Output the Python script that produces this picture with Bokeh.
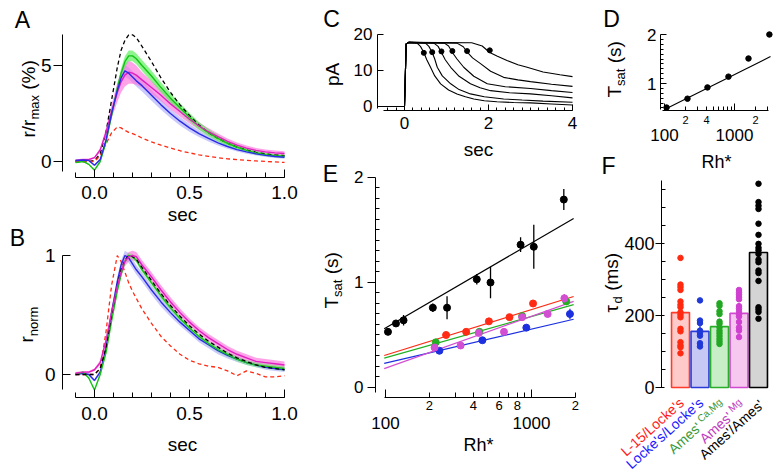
import numpy as np
from math import pi, cos, sin, radians
from bokeh.plotting import figure
from bokeh.models import (Range1d, LinearAxis, LogAxis, FixedTicker, SingleIntervalTicker,
                          PrintfTickFormatter, Label)
from bokeh.layouts import row, column
from bokeh.embed import file_html
from bokeh.resources import INLINE

FONT = "Liberation Sans"

# ---------------- data ----------------
# Panels A/B: time base (s)
t_ab = [-0.1, -0.06, -0.03, 0.0, 0.03, 0.06, 0.09, 0.12, 0.14, 0.16, 0.18, 0.2, 0.22, 0.25,
        0.3, 0.35, 0.4, 0.45, 0.5, 0.55, 0.6, 0.65, 0.7, 0.75, 0.8, 0.85, 0.9, 0.95, 1.0]
# Panel A: r/rmax (%)
a_black = [0, 0, 0, 0.05, 0.4, 1.5, 3.2, 4.9, 5.8, 6.3, 6.6, 6.6, 6.45, 6.0, 5.2, 4.35, 3.6, 2.95,
           2.4, 1.9, 1.5, 1.2, 0.95, 0.75, 0.6, 0.48, 0.4, 0.34, 0.3]
a_red = [0, 0, 0, 0.0, 0.3, 0.9, 1.5, 1.8, 1.75, 1.62, 1.52, 1.45, 1.38, 1.22, 1.02, 0.85, 0.7,
         0.56, 0.45, 0.35, 0.27, 0.2, 0.14, 0.1, 0.06, 0.03, 0.0, -0.02, -0.05]
a_green = [-0.05, 0.0, -0.15, -0.45, 0.0, 1.0, 2.4, 3.8, 4.6, 5.2, 5.5, 5.5, 5.35, 5.0, 4.45, 3.85,
           3.3, 2.8, 2.3, 1.85, 1.5, 1.2, 0.95, 0.75, 0.58, 0.45, 0.36, 0.3, 0.27]
a_green_sem = [0.03, 0.03, 0.03, 0.05, 0.05, 0.1, 0.15, 0.2, 0.25, 0.28, 0.28, 0.28, 0.28, 0.28,
               0.28, 0.26, 0.25, 0.23, 0.22, 0.2, 0.18, 0.16, 0.14, 0.12, 0.1, 0.1, 0.09, 0.08, 0.08]
a_magenta = [0.05, 0.1, 0.1, 0.2, 0.6, 1.5, 2.6, 3.6, 4.15, 4.5, 4.65, 4.6, 4.5, 4.25, 3.85, 3.45,
             3.0, 2.6, 2.2, 1.85, 1.55, 1.3, 1.05, 0.85, 0.7, 0.58, 0.5, 0.45, 0.42]
a_magenta_sem = [0.05, 0.05, 0.05, 0.05, 0.1, 0.2, 0.35, 0.5, 0.55, 0.6, 0.6, 0.55, 0.5, 0.4, 0.35,
                 0.3, 0.28, 0.25, 0.22, 0.2, 0.18, 0.16, 0.15, 0.14, 0.13, 0.12, 0.12, 0.12, 0.12]
a_blue = [0.05, 0.08, 0.05, -0.2, 0.1, 1.1, 2.5, 3.7, 4.35, 4.72, 4.6, 4.4, 4.2, 3.95, 3.45, 2.95,
          2.5, 2.1, 1.75, 1.45, 1.2, 0.97, 0.78, 0.62, 0.5, 0.4, 0.32, 0.26, 0.22]
a_blue_sem = [0.03, 0.03, 0.03, 0.05, 0.08, 0.15, 0.2, 0.25, 0.28, 0.3, 0.3, 0.3, 0.3, 0.3, 0.28,
              0.26, 0.24, 0.22, 0.2, 0.18, 0.16, 0.14, 0.12, 0.1, 0.1, 0.09, 0.08, 0.08, 0.08]
# Panel B: normalised responses
b_black = [0, 0, 0, 0.0, 0.05, 0.22, 0.5, 0.75, 0.88, 0.96, 1.0, 0.99, 0.97, 0.9, 0.79, 0.68, 0.58,
           0.49, 0.41, 0.34, 0.28, 0.23, 0.18, 0.14, 0.11, 0.08, 0.06, 0.05, 0.04]
b_red = [0, 0, 0, 0.0, 0.05, 0.35, 0.75, 1.0, 0.95, 0.86, 0.77, 0.7, 0.64, 0.55, 0.43, 0.32, 0.24,
         0.17, 0.12, 0.09, 0.07, 0.06, 0.03, -0.01, 0.03, 0.01, -0.02, -0.02, -0.01]
b_green = [0.0, 0.02, -0.03, -0.13, 0.0, 0.18, 0.45, 0.7, 0.84, 0.95, 1.0, 0.99, 0.96, 0.88, 0.77,
           0.66, 0.56, 0.47, 0.39, 0.32, 0.26, 0.21, 0.17, 0.13, 0.1, 0.08, 0.07, 0.06, 0.05]
b_green_sem = [0.01, 0.01, 0.01, 0.01, 0.01, 0.02, 0.02, 0.02, 0.02, 0.02, 0.02, 0.02, 0.02, 0.02,
               0.02, 0.02, 0.02, 0.02, 0.02, 0.02, 0.02, 0.02, 0.02, 0.02, 0.02, 0.02, 0.02, 0.02, 0.02]
b_magenta = [0.01, 0.02, 0.02, 0.04, 0.1, 0.28, 0.52, 0.74, 0.86, 0.95, 0.99, 1.0, 0.99, 0.92, 0.82,
             0.71, 0.61, 0.52, 0.44, 0.37, 0.31, 0.26, 0.21, 0.17, 0.14, 0.11, 0.1, 0.09, 0.08]
b_magenta_sem = [0.01, 0.01, 0.01, 0.01, 0.02, 0.03, 0.04, 0.04, 0.04, 0.04, 0.04, 0.04, 0.04, 0.04,
                 0.04, 0.04, 0.04, 0.035, 0.03, 0.03, 0.03, 0.03, 0.03, 0.03, 0.03, 0.03, 0.03, 0.03, 0.03]
b_blue = [0.0, 0.01, 0.0, -0.05, 0.02, 0.22, 0.52, 0.78, 0.92, 1.0, 0.98, 0.93, 0.88, 0.82, 0.71,
          0.61, 0.52, 0.44, 0.37, 0.3, 0.25, 0.2, 0.16, 0.13, 0.1, 0.08, 0.06, 0.05, 0.04]
b_blue_sem = [0.01, 0.01, 0.01, 0.01, 0.02, 0.03, 0.04, 0.04, 0.04, 0.04, 0.04, 0.04, 0.04, 0.04,
              0.04, 0.04, 0.035, 0.03, 0.03, 0.03, 0.03, 0.03, 0.025, 0.025, 0.02, 0.02, 0.02, 0.02, 0.02]

# Panel C: saturating responses (sec, pA)
c_traces_t = [
    [-0.5, 0.0, 0.04, 0.1, 0.3, 0.38, 0.46, 0.53, 0.62, 0.72, 0.86, 1.05, 1.25, 1.45, 1.65, 1.9, 2.2, 2.6, 3.0, 3.5, 4.0],
    [-0.5, 0.0, 0.04, 0.1, 0.5, 0.58, 0.66, 0.72, 0.78, 0.9, 1.1, 1.3, 1.57, 1.9, 2.36, 2.8, 3.3, 4.0],
    [-0.5, 0.0, 0.04, 0.1, 0.7, 0.8, 0.88, 0.97, 1.1, 1.3, 1.57, 1.8, 2.05, 2.5, 3.0, 3.5, 4.0],
    [-0.5, 0.0, 0.04, 0.1, 0.95, 1.05, 1.14, 1.25, 1.41, 1.65, 1.97, 2.4, 3.0, 3.5, 4.0],
    [-0.5, 0.0, 0.04, 0.1, 1.25, 1.4, 1.5, 1.62, 1.81, 2.05, 2.36, 2.7, 3.0, 3.5, 4.0],
    [-0.5, 0.0, 0.04, 0.1, 1.6, 1.85, 2.03, 2.2, 2.44, 2.7, 2.92, 3.3, 3.7, 4.0],
]
c_traces_pa = [
    [0, 0, 17.4, 17.8, 17.6, 16.7, 15.0, 13.0, 10.9, 8.5, 6.3, 4.6, 3.5, 2.7, 2.1, 1.6, 1.3, 1.1, 1.0, 0.7, 0.4],
    [0, 0, 17.4, 17.8, 17.6, 16.7, 15.0, 13.2, 10.9, 8.5, 6.3, 4.7, 3.5, 2.7, 2.1, 1.8, 1.5, 1.2],
    [0, 0, 17.4, 17.8, 17.6, 16.7, 15.0, 13.0, 10.9, 8.4, 6.3, 5.2, 4.4, 3.8, 3.5, 3.0, 2.4],
    [0, 0, 17.4, 17.8, 17.6, 16.8, 15.0, 13.2, 10.9, 8.4, 6.3, 5.5, 5.0, 4.4, 3.9],
    [0, 0, 17.4, 17.8, 17.6, 16.6, 15.0, 13.5, 11.9, 9.8, 8.1, 7.4, 6.9, 6.2, 5.6],
    [0, 0, 17.4, 17.8, 17.7, 16.8, 15.0, 14.0, 12.8, 11.6, 10.9, 9.6, 8.8, 8.3],
]
c_dot_t = [0.46, 0.66, 0.88, 1.14, 1.49, 2.03]
c_dot_pa = [14.9, 15.1, 15.3, 15.4, 15.4, 15.6]

# Panel D
d_rh = [107, 213, 411, 820, 1585, 3150]
d_tsat = [0.51, 0.69, 0.92, 1.14, 1.51, 2.0]
d_fit_rh = [107, 3270]
d_fit_t = [0.49, 1.55]

# Panel E
e_black_rh = [104, 118, 133, 211, 264, 422, 524, 842, 1037, 1665]
e_black_t = [0.53, 0.61, 0.64, 0.76, 0.76, 1.03, 1.00, 1.36, 1.34, 1.79]
e_black_err = [0.03, 0.02, 0.05, 0.04, 0.11, 0.05, 0.15, 0.07, 0.21, 0.10]
e_red_rh = [260, 357, 511, 707, 1025]
e_red_t = [0.50, 0.53, 0.63, 0.67, 0.80]
e_red_err = [0.02, 0.02, 0.02, 0.03, 0.03]
e_green_rh = [221, 440, 863, 1730]
e_green_t = [0.43, 0.53, 0.68, 0.82]
e_green_err = [0.02, 0.02, 0.02, 0.03]
e_blue_rh = [234, 461, 922, 1834]
e_blue_t = [0.35, 0.45, 0.57, 0.70]
e_blue_err = [0.02, 0.02, 0.03, 0.05]
e_mag_rh = [217, 327, 435, 648, 863, 1290, 1680]
e_mag_t = [0.38, 0.40, 0.52, 0.53, 0.67, 0.70, 0.85]
e_mag_err = [0.02, 0.02, 0.02, 0.02, 0.03, 0.03, 0.04]
e_fit_rh = [98, 1944]
e_fit_black = [0.56, 1.61]
e_fit_red = [0.305, 0.867]
e_fit_green = [0.28, 0.79]
e_fit_blue = [0.23, 0.65]
e_fit_mag = [0.18, 0.82]

# Panel F
f_categories = ["L-15/Locke's", "Locke's/Locke's", "Ames'Ca,Mg", "Ames'Mg", "Ames'/Ames'"]
f_main_text = ["L-15/Locke's", "Locke's/Locke's", "Ames'", "Ames'", "Ames'/Ames'"]
f_sup_text = ["", "", "Ca,Mg", "Mg", ""]
f_means = [208, 156, 169, 206, 375]
f_sem = [17, 16, 10, 11, 22]
f_dots = [
    [360, 286, 279, 271, 239, 230, 223, 209, 202, 195, 163, 156, 126, 117, 112, 95],
    [242, 186, 179, 158, 152, 144, 123, 114],
    [234, 227, 212, 204, 183, 177, 167, 158, 151, 143, 135, 128, 121],
    [271, 264, 258, 251, 245, 226, 219, 210, 203, 197, 182, 167, 158, 140],
    [566, 515, 505, 496, 455, 424, 399, 388, 381, 371, 355, 348, 325, 318, 296, 223, 217, 210, 191],
]

# tick values
ab_x_interval = 0.5
a_y_ticks = [0, 5]
b_y_ticks = [0, 1]
c_y_ticks = [0, 10, 20]
d_y_ticks = [1, 2]
e_y_ticks = [0, 1, 2]
f_y_ticks = [0, 200, 400]
log_major = [100, 1000]
d_small_ticks = {200: "2", 400: "4", 2000: "2"}
e_small_ticks = {200: "2", 400: "4", 600: "6", 800: "8", 2000: "2"}

# ---------------- styling ----------------
RED = "#ff2b14"
GREEN = "#22b022"
BLUE = "#1c30e0"
MAGENTA = "#d24ed2"
A_GREEN = "#14c414"
A_MAG = "#e01fbf"
A_BLUE = "#2a2ae8"
LETTER = 23

CW = {'r': .333, '/': .278, 'm': .833, 'a': .556, 'x': .5, ' ': .278, '(': .333, '%': .889,
      ')': .333, 'n': .556, 'o': .556, 'T': .611, 's': .5, 't': .278, 'd': .556, 'τ': .48,
      'p': .556, 'A': .667, 'C': .722, ',': .278, 'M': .833, 'g': .556, 'e': .556, "'": .191}


def tw(s, size):
    return sum(CW.get(c, .556) for c in s) * size


def mkfig(w, h, xr, yr, xlog=False):
    p = figure(width=w, height=h, x_range=xr, y_range=yr,
               x_axis_type="log" if xlog else "linear",
               x_axis_location=None, y_axis_location=None, title=None,
               output_backend="svg", toolbar_location=None,
               min_border_left=0, min_border_right=0, min_border_top=0, min_border_bottom=0)
    p.outline_line_color = None
    p.grid.visible = False
    p.background_fill_color = "white"
    p.border_fill_color = "white"
    return p


def style_axis(ax, size, tin=0, tout=0, mtin=0, mtout=0, standoff=4, line=True):
    ax.axis_line_color = "black" if line else None
    ax.axis_line_width = 1
    ax.major_tick_line_color = "black" if (tin or tout) else None
    ax.minor_tick_line_color = "black" if (mtin or mtout) else None
    ax.major_tick_in = tin
    ax.major_tick_out = tout
    ax.minor_tick_in = mtin
    ax.minor_tick_out = mtout
    ax.major_label_text_font = FONT
    ax.major_label_text_font_size = f"{size}px"
    ax.major_label_text_color = "black"
    ax.major_label_standoff = standoff
    return ax


def txt(p, C, X, Y, text, size, angle=0.0, align="center", baseline="middle", color="black"):
    CL, CB = C
    p.add_layout(Label(x=X - CL, y=CB - Y, x_units="screen", y_units="screen", text=text,
                       angle=angle, text_align=align, text_baseline=baseline,
                       text_font=FONT, text_font_size=f"{size}px", text_color=color))


def vlabel(p, C, xcenter, ybottom, parts):
    # rotated (reading upwards) label built from parts: (text, size, x-shift, leading gap in em)
    y = ybottom
    for text, size, shift, gap in parts:
        y -= gap * size
        txt(p, C, xcenter + shift, y, text, size, angle=pi / 2, align="left", baseline="middle")
        y -= tw(text, size)


def band(p, x, m, s, color, alpha):
    m = np.array(m); s = np.array(s)
    p.varea(x=x, y1=m - s, y2=m + s, fill_color=color, fill_alpha=alpha)


# ---------------- Panel A  (canvas x 0..308, y 0..224) ----------------
CA = (0, 224)
pA = mkfig(308, 224, Range1d(-0.4947, 1.1263), Range1d(-3.2813, 8.3854))
ax = LinearAxis(ticker=SingleIntervalTicker(interval=ab_x_interval, num_minor_ticks=5),
                formatter=PrintfTickFormatter(format="%.1f"), bounds=(-0.1, 1.0), fixed_location=-0.8333)
style_axis(ax, 19, tin=8, mtin=5, standoff=9)
pA.add_layout(ax, "below")
ay = LinearAxis(ticker=FixedTicker(ticks=a_y_ticks), bounds=(-0.5, 6.6), fixed_location=-0.1684)
style_axis(ay, 19, tout=9, standoff=2)
pA.add_layout(ay, "left")
band(pA, t_ab, a_blue, a_blue_sem, "#b8b8fa", 0.75)
band(pA, t_ab, a_magenta, a_magenta_sem, "#ff70dc", 0.65)
band(pA, t_ab, a_green, a_green_sem, "#5ef05e", 0.7)
pA.line(t_ab, a_black, line_color="black", line_dash="4 3", line_width=1.3)
pA.line(t_ab, a_red, line_color=RED, line_dash="4 3", line_width=1.3)
pA.line(t_ab, a_green, line_color=A_GREEN, line_width=1.4)
pA.line(t_ab, a_magenta, line_color=A_MAG, line_width=1.4)
pA.line(t_ab, a_blue, line_color=A_BLUE, line_width=1.4)
txt(pA, CA, 22, 19, "A", LETTER)
txt(pA, CA, 182, 213.5, "sec", 19)
vlabel(pA, CA, 28, 137, [("r/r", 19, 0, 0), ("max", 13, 6, 0), ("(%)", 19, 0, 0.278)])

# ---------------- Panel B  (canvas x 0..308, y 224..474) ----------------
CB_ = (0, 474)
pB = mkfig(308, 250, Range1d(-0.4947, 1.1263), Range1d(-0.8403, 1.2605))
bx = LinearAxis(ticker=SingleIntervalTicker(interval=ab_x_interval, num_minor_ticks=5),
                formatter=PrintfTickFormatter(format="%.1f"), bounds=(-0.1, 1.0), fixed_location=-0.1933)
style_axis(bx, 19, tin=8, mtin=5, standoff=9)
pB.add_layout(bx, "below")
by = LinearAxis(ticker=FixedTicker(ticks=b_y_ticks), bounds=(-0.13, 1.0), fixed_location=-0.1684)
style_axis(by, 19, tin=8, standoff=7)
pB.add_layout(by, "left")
band(pB, t_ab, b_blue, b_blue_sem, "#b8b8fa", 0.75)
band(pB, t_ab, b_magenta, b_magenta_sem, "#ff70dc", 0.65)
band(pB, t_ab, b_green, b_green_sem, "#5ef05e", 0.5)
pB.line(t_ab, b_red, line_color=RED, line_dash="4 3", line_width=1.3)
pB.line(t_ab, b_blue, line_color=A_BLUE, line_width=1.4)
pB.line(t_ab, b_green, line_color=A_GREEN, line_width=1.4)
pB.line(t_ab, b_black, line_color="black", line_dash="4 3", line_width=1.3)
pB.line(t_ab, b_magenta, line_color=A_MAG, line_width=1.4)
txt(pB, CB_, 17, 237, "B", LETTER)
txt(pB, CB_, 182, 443.5, "sec", 19)
vlabel(pB, CB_, 26, 342, [("r", 19, 0, 0), ("norm", 13, 7, 0)])

# ---------------- Panel C  (canvas x 308..588, y 0..160) ----------------
CC = (308, 160)
pC = mkfig(280, 160, Range1d(-2.2857, 4.3810), Range1d(-15.0, 29.444))
cx = LinearAxis(ticker=SingleIntervalTicker(interval=2, num_minor_ticks=10), bounds=(-0.5, 4.0),
                fixed_location=-1.111)
style_axis(cx, 17, tin=6, mtin=3, standoff=7)
pC.add_layout(cx, "below")
cy = LinearAxis(ticker=FixedTicker(ticks=c_y_ticks), bounds=(-0.5, 20), fixed_location=-0.6429)
style_axis(cy, 17, tin=6, standoff=5)
pC.add_layout(cy, "left")
for tt, yy in zip(c_traces_t, c_traces_pa):
    pC.line(tt, yy, line_color="black", line_width=1.1)
pC.scatter(c_dot_t, c_dot_pa, size=5, color="black")
txt(pC, CC, 331, 18, "C", LETTER)
txt(pC, CC, 478, 148.5, "sec", 19)
txt(pC, CC, 332, 74, "pA", 19, angle=pi / 2, align="center", baseline="middle")

# ---------------- Panel D  (canvas x 588..779, y 0..179) ----------------
CD = (588, 179)
pD = mkfig(191, 179, Range1d(8.21, 4394.5), Range1d(-0.9592, 2.6939), xlog=True)
d_minor_x = [200, 300, 400, 500, 600, 700, 800, 900, 2000, 3000]
dx1 = LogAxis(ticker=FixedTicker(ticks=log_major, minor_ticks=d_minor_x), bounds=(95, 3050),
              major_label_overrides={100: "", 1000: ""}, fixed_location=0.449)
style_axis(dx1, 1, tin=7, mtin=4, standoff=0)
pD.add_layout(dx1, "below")
dx2 = LogAxis(ticker=FixedTicker(ticks=list(d_small_ticks.keys())),
              major_label_overrides=d_small_ticks, fixed_location=0.449)
style_axis(dx2, 11, standoff=6, line=False)
pD.add_layout(dx2, "below")
dx3 = LogAxis(ticker=FixedTicker(ticks=log_major), major_label_overrides={100: "100", 1000: "1000"},
              fixed_location=0.449)
style_axis(dx3, 17, standoff=19, line=False)
pD.add_layout(dx3, "below")
dy = LinearAxis(ticker=FixedTicker(ticks=d_y_ticks,
                                   minor_ticks=[0.5, 0.6, 0.7, 0.8, 0.9, 1.1, 1.2, 1.3, 1.4, 1.5, 1.6, 1.7, 1.8, 1.9]),
                bounds=(0.47, 2.0), fixed_location=87.7)
style_axis(dy, 17, tin=6, mtin=3, standoff=4)
pD.add_layout(dy, "left")
pD.line(d_fit_rh, d_fit_t, line_color="black", line_width=1.2)
pD.scatter(d_rh, d_tsat, size=5.5, color="black")
txt(pD, CD, 611, 18, "D", LETTER)
txt(pD, CD, 716, 161, "Rh*", 18)
txt(pD, CD, 608, 165.5, "F", LETTER)
vlabel(pD, CD, 614, 97, [("T", 19, 0, 0), ("sat", 13, 6, 0), ("(s)", 19, 0, 0.278)])

# ---------------- Panel E  (canvas x 308..588, y 160..474) ----------------
CE = (308, 474)
pE = mkfig(280, 314, Range1d(29.69, 2457.5), Range1d(-0.8286, 2.1619), xlog=True)
e_minor_x = [200, 300, 400, 500, 600, 700, 800, 900, 2000]
ex1 = LogAxis(ticker=FixedTicker(ticks=log_major, minor_ticks=e_minor_x), bounds=(98, 2000),
              major_label_overrides={100: "", 1000: ""}, fixed_location=-0.0952)
style_axis(ex1, 1, tin=8, mtin=5, standoff=0)
pE.add_layout(ex1, "below")
ex2 = LogAxis(ticker=FixedTicker(ticks=list(e_small_ticks.keys())),
              major_label_overrides=e_small_ticks, fixed_location=-0.0952)
style_axis(ex2, 13, standoff=4, line=False)
pE.add_layout(ex2, "below")
ex3 = LogAxis(ticker=FixedTicker(ticks=log_major), major_label_overrides={100: "100", 1000: "1000"},
              fixed_location=-0.0952)
style_axis(ex3, 17, standoff=20, line=False)
pE.add_layout(ex3, "below")
ey = LinearAxis(ticker=FixedTicker(ticks=e_y_ticks,
                                   minor_ticks=[0.1, 0.2, 0.3, 0.4, 0.5, 0.6, 0.7, 0.8, 0.9,
                                                1.1, 1.2, 1.3, 1.4, 1.5, 1.6, 1.7, 1.8, 1.9]),
                bounds=(-0.05, 2.0), fixed_location=85.4)
style_axis(ey, 17, tout=8, mtin=4, standoff=4)
pE.add_layout(ey, "left")
for fit, col in [(e_fit_red, RED), (e_fit_green, GREEN), (e_fit_blue, BLUE), (e_fit_mag, MAGENTA),
                 (e_fit_black, "black")]:
    pE.line(e_fit_rh, fit, line_color=col, line_width=1.2)
for rh, tv, er, col in [(e_black_rh, e_black_t, e_black_err, "black"),
                        (e_red_rh, e_red_t, e_red_err, RED),
                        (e_green_rh, e_green_t, e_green_err, GREEN),
                        (e_blue_rh, e_blue_t, e_blue_err, BLUE),
                        (e_mag_rh, e_mag_t, e_mag_err, MAGENTA)]:
    tv = np.array(tv); er = np.array(er)
    pE.segment(x0=rh, y0=tv - er, x1=rh, y1=tv + er, line_color=col, line_width=1.3)
    pE.scatter(rh, tv, size=7, color=col)
txt(pE, CE, 330, 173, "E", LETTER)
txt(pE, CE, 478, 444, "Rh*", 18)
vlabel(pE, CE, 331, 308, [("T", 19, 0, 0), ("sat", 13, 6, 0), ("(s)", 19, 0, 0.278)])

# ---------------- Panel F  (canvas x 588..779, y 179..474) ----------------
CF = (588, 474)
pF = mkfig(191, 295, Range1d(-3.7179, 6.0769), Range1d(-241.67, 577.78))
fy = LinearAxis(ticker=FixedTicker(ticks=f_y_ticks,
                                   minor_ticks=[50, 100, 150, 250, 300, 350, 450, 500, 550]),
                bounds=(0, 575), fixed_location=0.0256)
style_axis(fy, 18, tin=3, tout=6, mtin=4, standoff=1)
pF.add_layout(fy, "left")
f_pos = np.arange(1, len(f_categories) + 1)
f_fill = ["#ffcaca", "#c8c8f4", "#c8eec8", "#f6c8f0", "#d4d4d4"]
f_line = ["#ff3b2a", "#2a3ad8", "#2aae2a", "#d04ad0", "black"]
f_dot_col = ["#ff2a10", "#1f38d8", "#22a822", "#d040d0", "black"]
f_text_col = ["#ff1a1a", "#1a1aff", "#3a9a3a", "#c03cc0", "black"]
pF.vbar(x=f_pos, top=f_means, width=0.92, bottom=0, fill_color=f_fill, line_color=f_line,
        line_width=1.6)
f_m = np.array(f_means); f_s = np.array(f_sem)
pF.segment(x0=f_pos, y0=f_m - f_s, x1=f_pos, y1=f_m + f_s, line_color=f_line, line_width=1.3)
for i, vals in enumerate(f_dots):
    pF.scatter([f_pos[i]] * len(vals), vals, size=5.5, color=f_dot_col[i])
vlabel(pF, CF, 611, 312, [("τ", 19, 0, 0), ("d", 13, 6, 0), ("(ms)", 19, 0, 0.278)])

theta = radians(42)
for i in range(len(f_categories)):
    dx = 3 if i == 4 else 1
    sy = CF[1] - (400 if i < 4 else 402)
    col = f_text_col[i]
    if f_sup_text[i]:
        pF.add_layout(Label(x=f_pos[i], y=sy, x_offset=dx, x_units="data", y_units="screen",
                            text=f_sup_text[i], angle=theta, text_align="right", text_baseline="middle",
                            text_font=FONT, text_font_size="10px", text_color=col))
        L = tw(f_sup_text[i], 10) + 3
        r = 4
        mx = dx - L * cos(theta) + r * sin(theta)
        my = sy - L * sin(theta) - r * cos(theta)
        pF.add_layout(Label(x=f_pos[i], y=my, x_offset=mx, x_units="data", y_units="screen",
                            text=f_main_text[i], angle=theta, text_align="right", text_baseline="middle",
                            text_font=FONT, text_font_size="14px", text_color=col))
    else:
        pF.add_layout(Label(x=f_pos[i], y=sy, x_offset=dx, x_units="data", y_units="screen",
                            text=f_main_text[i], angle=theta, text_align="right", text_baseline="middle",
                            text_font=FONT, text_font_size="14px", text_color=col))

layout = row(column(pA, pB), column(pC, pE), column(pD, pF))
open("out.html", "w").write(file_html(layout, INLINE))
